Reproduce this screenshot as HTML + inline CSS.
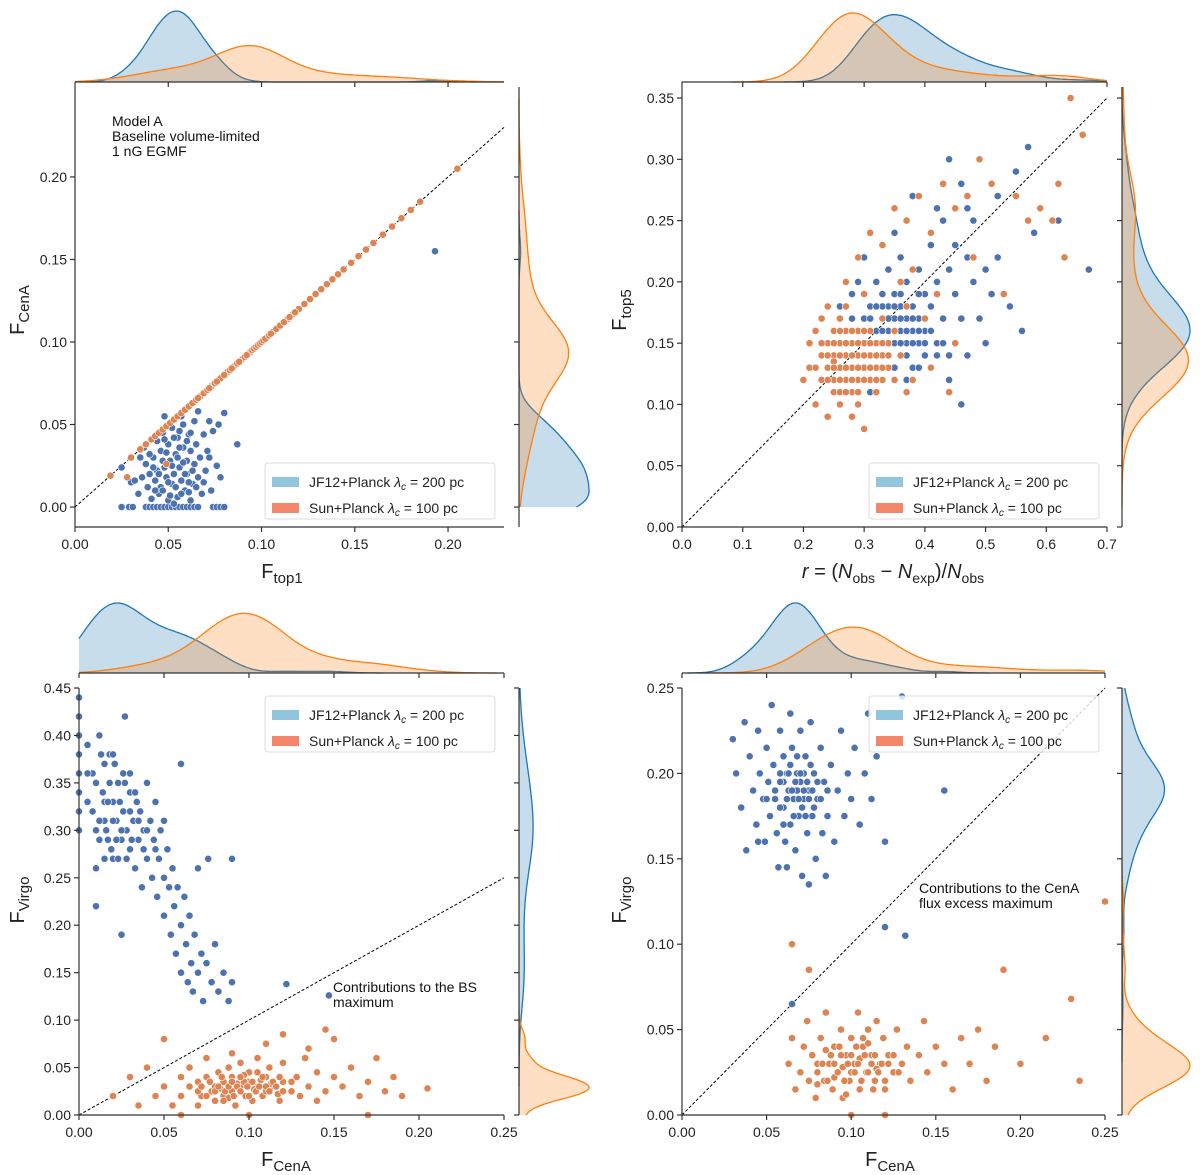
<!DOCTYPE html>
<html><head><meta charset="utf-8"><style>
html,body{margin:0;padding:0;background:#fff;}
svg{display:block;font-family:"Liberation Sans","DejaVu Sans",sans-serif;}
</style></head><body>
<svg id="fig" width="1200" height="1175" viewBox="0 0 1200 1175" xmlns="http://www.w3.org/2000/svg"></svg>
<script>
// ---------- DATA ----------
const p1BlueX=[0.025,0.029,0.031,0.038,0.040,0.042,0.044,0.046,0.048,0.050,0.052,0.054,0.056,0.058,0.060,0.062,0.064,0.066,0.074,0.076,0.078,0.080,
0.025,0.030,0.032,0.034,0.036,0.037,0.038,0.039,0.040,0.041,0.042,0.043,0.044,0.044,0.045,0.046,0.046,0.047,0.048,0.049,0.050,0.050,0.051,0.052,0.052,0.053,0.054,0.055,0.055,0.056,0.057,0.058,0.058,0.059,0.060,0.060,0.061,0.062,0.062,0.063,0.064,0.064,0.065,0.066,0.066,0.067,0.068,0.069,0.070,0.071,0.072,0.073,0.074,0.076,0.077,0.078,0.080,0.087,0.193,0.048,0.057,0.043,0.053,0.069,0.061,0.047,0.056,0.040,0.035,0.072];
const p1BlueY=[0,0,0,0,0,0,0,0,0,0,0,0,0,0,0,0,0,0,0,0,0,0,
0.024,0.015,0.016,0.008,0.018,0.036,0.026,0.012,0.020,0.005,0.030,0.016,0.040,0.022,0.008,0.034,0.012,0.045,0.024,0.018,0.004,0.038,0.028,0.048,0.014,0.020,0.032,0.006,0.042,0.024,0.016,0.036,0.050,0.010,0.028,0.020,0.044,0.004,0.034,0.014,0.026,0.052,0.038,0.018,0.058,0.030,0.008,0.044,0.022,0.034,0.052,0.010,0.046,0.025,0.050,0.018,0.057,0.038,0.155,0.055,0.055,0.010,0.002,0.015,0.009,0.028,0.046,0.032,0.030,0.030];
const p1BlueCoreX=[0.045,0.047,0.050,0.052,0.054,0.055,0.057,0.059,0.061,0.063,0.049,0.051,0.056,0.060,0.053,0.042,0.058,0.065,0.048,0.062];
const p1BlueCoreY=[0.020,0.010,0.015,0.025,0.012,0.030,0.008,0.020,0.015,0.022,0.033,0.007,0.036,0.040,0.042,0.024,0.027,0.012,0.041,0.045];
const p1OrangeX=[0.019,0.030,0.035,0.038,0.041,0.043,0.045,0.047,0.049,0.051,0.053,0.055,0.057,0.059,0.061,0.063,0.065,0.067,0.069,0.071,0.073,0.075,0.077,0.079,0.081,0.083,0.085,0.087,0.089,0.091,0.093,0.095,0.097,0.099,0.101,0.103,0.105,0.107,0.109,0.111,0.114,0.117,0.120,0.123,0.126,0.129,0.132,0.135,0.138,0.141,0.144,0.148,0.152,0.156,0.160,0.165,0.170,0.175,0.180,0.185,0.205,0.088,0.092,0.094,0.096,0.098,0.086,0.082,0.078,0.102,0.106,0.090,0.100,0.028,0.049];
const p1OrangeY=[0.019,0.030,0.035,0.038,0.041,0.043,0.045,0.047,0.049,0.051,0.053,0.055,0.057,0.059,0.061,0.063,0.065,0.067,0.069,0.071,0.073,0.075,0.077,0.079,0.081,0.083,0.085,0.087,0.089,0.091,0.093,0.095,0.097,0.099,0.101,0.103,0.105,0.107,0.109,0.111,0.114,0.117,0.120,0.123,0.126,0.129,0.132,0.135,0.138,0.141,0.144,0.148,0.152,0.156,0.160,0.165,0.170,0.175,0.180,0.185,0.205,0.088,0.092,0.094,0.096,0.098,0.086,0.082,0.078,0.102,0.106,0.090,0.100,0.018,0.026];
const p1OrangeCoreX=[0.080,0.083,0.085,0.087,0.089,0.090,0.091,0.093,0.094,0.095,0.096,0.097,0.098,0.099,0.100,0.101,0.102,0.104,0.105,0.108,0.110,0.112,0.115,0.118,0.084,0.092,0.088,0.076,0.072,0.066];
const p1OrangeCoreY=[0.080,0.083,0.085,0.087,0.089,0.090,0.091,0.093,0.094,0.095,0.096,0.097,0.098,0.099,0.100,0.101,0.102,0.104,0.105,0.108,0.110,0.112,0.115,0.118,0.084,0.092,0.088,0.076,0.072,0.066];

const p2BlueX=[0.26,0.27,0.28,0.28,0.29,0.29,0.30,0.30,0.30,0.31,0.31,0.31,0.32,0.32,0.32,0.33,0.33,0.33,0.33,0.34,0.34,0.34,0.34,0.35,0.35,0.35,0.35,0.36,0.36,0.36,0.36,0.37,0.37,0.37,0.38,0.38,0.38,0.39,0.39,0.39,0.40,0.40,0.40,0.41,0.41,0.42,0.42,0.43,0.43,0.44,0.44,0.44,0.45,0.45,0.46,0.46,0.47,0.47,0.48,0.48,0.49,0.50,0.50,0.51,0.52,0.52,0.53,0.54,0.55,0.56,0.57,0.58,0.62,0.67,0.46,0.42,0.35,0.31,0.29,0.28,0.37,0.32,0.41,0.39,0.33,0.47,0.44,0.38];
const p2BlueY=[0.18,0.16,0.14,0.19,0.20,0.12,0.17,0.15,0.22,0.11,0.18,0.14,0.16,0.20,0.13,0.17,0.15,0.19,0.12,0.18,0.16,0.14,0.21,0.17,0.15,0.19,0.13,0.16,0.18,0.14,0.22,0.17,0.15,0.20,0.16,0.18,0.13,0.17,0.15,0.21,0.16,0.19,0.14,0.18,0.23,0.15,0.20,0.17,0.25,0.14,0.21,0.12,0.19,0.23,0.17,0.10,0.14,0.22,0.20,0.25,0.17,0.21,0.15,0.19,0.22,0.27,0.19,0.18,0.29,0.16,0.31,0.24,0.25,0.21,0.28,0.26,0.24,0.24,0.15,0.17,0.12,0.11,0.13,0.19,0.23,0.26,0.30,0.27];
const p2BlueCoreX=[0.30,0.31,0.32,0.33,0.33,0.34,0.34,0.35,0.35,0.36,0.36,0.37,0.37,0.38,0.38,0.39,0.40,0.40,0.41,0.42,0.32,0.31,0.36,0.39,0.43,0.29,0.34,0.30];
const p2BlueCoreY=[0.16,0.17,0.15,0.16,0.18,0.15,0.17,0.16,0.18,0.15,0.17,0.16,0.14,0.17,0.15,0.16,0.15,0.17,0.16,0.14,0.18,0.15,0.19,0.13,0.15,0.14,0.13,0.13];
const p2OrangeX=[0.20,0.21,0.21,0.22,0.22,0.23,0.23,0.23,0.24,0.24,0.24,0.24,0.25,0.25,0.25,0.25,0.26,0.26,0.26,0.26,0.27,0.27,0.27,0.27,0.28,0.28,0.28,0.28,0.29,0.29,0.29,0.29,0.30,0.30,0.30,0.30,0.31,0.31,0.31,0.32,0.32,0.32,0.33,0.33,0.33,0.34,0.34,0.35,0.35,0.36,0.36,0.37,0.37,0.38,0.38,0.40,0.41,0.42,0.44,0.45,0.48,0.53,0.27,0.29,0.31,0.33,0.35,0.37,0.39,0.41,0.43,0.45,0.47,0.49,0.51,0.55,0.57,0.59,0.61,0.63,0.64,0.66,0.62,0.26,0.28,0.30,0.27,0.25];
const p2OrangeY=[0.12,0.15,0.13,0.10,0.16,0.14,0.12,0.17,0.13,0.15,0.09,0.18,0.14,0.12,0.16,0.11,0.13,0.15,0.17,0.10,0.14,0.12,0.16,0.18,0.13,0.15,0.11,0.09,0.14,0.16,0.12,0.10,0.13,0.15,0.08,0.19,0.14,0.12,0.16,0.13,0.15,0.11,0.14,0.17,0.12,0.15,0.13,0.16,0.12,0.14,0.20,0.11,0.18,0.12,0.21,0.17,0.13,0.19,0.11,0.15,0.22,0.19,0.20,0.22,0.24,0.23,0.26,0.25,0.27,0.24,0.28,0.26,0.27,0.30,0.28,0.27,0.25,0.26,0.25,0.22,0.35,0.32,0.28,0.16,0.14,0.14,0.13,0.135];
const p2OrangeCoreX=[0.24,0.25,0.25,0.26,0.26,0.27,0.27,0.28,0.28,0.28,0.29,0.29,0.30,0.30,0.31,0.31,0.32,0.32,0.33,0.33,0.26,0.29,0.23,0.24,0.27,0.30,0.34,0.22];
const p2OrangeCoreY=[0.14,0.15,0.13,0.14,0.12,0.15,0.13,0.14,0.12,0.16,0.13,0.15,0.14,0.12,0.13,0.15,0.14,0.12,0.13,0.15,0.11,0.11,0.15,0.12,0.11,0.16,0.14,0.13];

const p3BlueX=[0,0,0,0,0,0,0,0,0.005,0.005,0.008,0.01,0.01,0.012,0.014,0.015,0.017,0.018,0.02,0.02,0.022,0.023,0.025,0.026,0.027,0.028,0.03,0.03,0.032,0.033,0.034,0.035,0.036,0.037,0.038,0.04,0.04,0.042,0.043,0.044,0.045,0.046,0.047,0.048,0.05,0.05,0.052,0.053,0.054,0.055,0.056,0.057,0.058,0.06,0.06,0.062,0.063,0.064,0.065,0.066,0.067,0.068,0.07,0.072,0.073,0.075,0.076,0.078,0.08,0.082,0.085,0.088,0.09,0.09,0.06,0.025,0.01,0.122,0.147,0.03,0.015,0.045,0.05,0.07];
const p3BlueY=[0.44,0.42,0.40,0.38,0.36,0.34,0.32,0.30,0.39,0.33,0.36,0.30,0.26,0.40,0.34,0.31,0.29,0.38,0.33,0.27,0.31,0.35,0.29,0.32,0.42,0.30,0.34,0.28,0.31,0.26,0.33,0.29,0.32,0.24,0.30,0.35,0.27,0.31,0.25,0.29,0.33,0.23,0.27,0.30,0.25,0.21,0.28,0.24,0.19,0.26,0.22,0.17,0.24,0.20,0.15,0.23,0.18,0.14,0.21,0.16,0.13,0.19,0.15,0.17,0.12,0.16,0.27,0.14,0.18,0.13,0.15,0.12,0.27,0.14,0.37,0.19,0.22,0.138,0.126,0.36,0.37,0.28,0.31,0.26];
const p3BlueCoreX=[0.005,0.008,0.01,0.012,0.013,0.015,0.016,0.018,0.019,0.02,0.021,0.022,0.024,0.025,0.027,0.028,0.03,0.031,0.033,0.035,0.012,0.017,0.023,0.026,0.038,0.04,0.015,0.02];
const p3BlueCoreY=[0.36,0.32,0.35,0.29,0.38,0.33,0.30,0.35,0.28,0.31,0.37,0.29,0.33,0.30,0.35,0.27,0.32,0.29,0.34,0.31,0.31,0.33,0.27,0.36,0.28,0.30,0.27,0.38];
const p3OrangeX=[0.02,0.03,0.035,0.04,0.045,0.05,0.05,0.055,0.06,0.06,0.065,0.065,0.07,0.07,0.072,0.075,0.075,0.078,0.08,0.08,0.082,0.085,0.085,0.088,0.09,0.09,0.092,0.095,0.095,0.098,0.1,0.1,0.102,0.105,0.105,0.108,0.11,0.11,0.112,0.115,0.118,0.12,0.12,0.125,0.128,0.13,0.133,0.135,0.14,0.14,0.145,0.15,0.15,0.155,0.16,0.165,0.17,0.175,0.18,0.185,0.19,0.205,0.17,0.145,0.11,0.09,0.1,0.06,0.12,0.135,0.083,0.093,0.103,0.113,0.088,0.097,0.107,0.117];
const p3OrangeY=[0.02,0.04,0.01,0.05,0.02,0.08,0.03,0.01,0.04,0.02,0.03,0.05,0.01,0.035,0.02,0.04,0.06,0.025,0.03,0.015,0.045,0.02,0.035,0.05,0.025,0.04,0.01,0.03,0.055,0.02,0.035,0.045,0.015,0.03,0.06,0.02,0.04,0.025,0.05,0.03,0.015,0.035,0.055,0.025,0.04,0.02,0.06,0.03,0.045,0.015,0.025,0.04,0.08,0.03,0.05,0.02,0.035,0.06,0.025,0.04,0.02,0.028,0.0,0.09,0.075,0.065,0.0,0.0,0.085,0.07,0.028,0.033,0.027,0.033,0.018,0.042,0.037,0.022];
const p3OrangeCoreX=[0.07,0.072,0.075,0.077,0.08,0.082,0.084,0.086,0.088,0.09,0.091,0.093,0.095,0.097,0.099,0.1,0.102,0.104,0.106,0.108,0.11,0.112,0.114,0.116,0.118,0.12,0.085,0.095,0.105,0.125];
const p3OrangeCoreY=[0.025,0.03,0.02,0.035,0.025,0.03,0.04,0.025,0.03,0.035,0.02,0.03,0.025,0.035,0.03,0.02,0.035,0.025,0.03,0.04,0.03,0.025,0.035,0.03,0.04,0.025,0.015,0.04,0.045,0.035];

const p4BlueX=[0.03,0.032,0.035,0.037,0.038,0.04,0.042,0.044,0.045,0.046,0.048,0.049,0.05,0.051,0.052,0.053,0.054,0.055,0.056,0.057,0.058,0.059,0.06,0.06,0.061,0.062,0.063,0.064,0.064,0.065,0.066,0.067,0.068,0.069,0.07,0.07,0.071,0.072,0.073,0.074,0.075,0.076,0.077,0.078,0.079,0.08,0.082,0.083,0.084,0.086,0.088,0.09,0.092,0.094,0.096,0.098,0.1,0.102,0.105,0.108,0.11,0.112,0.115,0.12,0.13,0.155,0.12,0.132,0.065,0.075,0.062,0.085,0.045,0.058,0.072,0.068];
const p4BlueY=[0.22,0.20,0.18,0.23,0.155,0.21,0.19,0.17,0.225,0.20,0.185,0.16,0.215,0.195,0.175,0.24,0.205,0.185,0.165,0.145,0.225,0.195,0.18,0.21,0.16,0.20,0.19,0.17,0.235,0.215,0.185,0.155,0.20,0.175,0.195,0.225,0.14,0.185,0.21,0.165,0.19,0.23,0.175,0.20,0.15,0.185,0.215,0.165,0.195,0.175,0.205,0.16,0.19,0.225,0.175,0.20,0.185,0.215,0.17,0.20,0.235,0.185,0.21,0.16,0.245,0.19,0.11,0.105,0.065,0.135,0.145,0.14,0.16,0.2,0.2,0.19];
const p4BlueCoreX=[0.055,0.058,0.06,0.062,0.063,0.065,0.066,0.067,0.069,0.07,0.071,0.072,0.074,0.075,0.077,0.078,0.08,0.082,0.06,0.064,0.068,0.073,0.076,0.058,0.086,0.05];
const p4BlueCoreY=[0.19,0.18,0.195,0.185,0.2,0.19,0.175,0.195,0.185,0.2,0.18,0.19,0.195,0.185,0.19,0.18,0.195,0.185,0.17,0.205,0.21,0.175,0.205,0.195,0.19,0.185];
const p4OrangeX=[0.063,0.065,0.067,0.07,0.072,0.074,0.075,0.077,0.079,0.08,0.082,0.084,0.085,0.087,0.089,0.09,0.092,0.094,0.095,0.097,0.099,0.1,0.102,0.104,0.105,0.107,0.109,0.11,0.112,0.114,0.115,0.117,0.119,0.12,0.122,0.125,0.127,0.13,0.133,0.135,0.14,0.143,0.145,0.15,0.155,0.16,0.165,0.17,0.175,0.18,0.185,0.19,0.2,0.215,0.23,0.235,0.25,0.065,0.075,0.1,0.12,0.095,0.105,0.085,0.115,0.09,0.11,0.1,0.08];
const p4OrangeY=[0.03,0.045,0.015,0.025,0.04,0.055,0.02,0.035,0.01,0.03,0.045,0.02,0.06,0.03,0.015,0.04,0.025,0.05,0.01,0.035,0.02,0.045,0.03,0.06,0.015,0.04,0.025,0.05,0.035,0.02,0.055,0.03,0.045,0.015,0.035,0.025,0.05,0.03,0.04,0.02,0.035,0.055,0.025,0.04,0.03,0.015,0.045,0.03,0.05,0.02,0.04,0.085,0.03,0.045,0.068,0.02,0.125,0.1,0.085,0.0,0.0,0.028,0.033,0.038,0.027,0.022,0.042,0.025,0.018];
const p4OrangeCoreX=[0.08,0.083,0.086,0.088,0.09,0.092,0.094,0.096,0.098,0.1,0.102,0.104,0.106,0.108,0.11,0.112,0.114,0.116,0.118,0.12,0.122,0.125,0.128,0.093,0.103,0.113,0.097,0.107];
const p4OrangeCoreY=[0.025,0.03,0.02,0.035,0.03,0.025,0.035,0.02,0.03,0.035,0.025,0.03,0.02,0.035,0.025,0.03,0.035,0.025,0.03,0.02,0.03,0.035,0.025,0.04,0.04,0.015,0.012,0.045];

const p1XTicks=[0,0.05,0.10,0.15,0.20], p1XLabels=["0.00","0.05","0.10","0.15","0.20"];
const p1YTicks=[0,0.05,0.10,0.15,0.20], p1YLabels=["0.00","0.05","0.10","0.15","0.20"];
const p2XTicks=[0,0.1,0.2,0.3,0.4,0.5,0.6,0.7], p2XLabels=["0.0","0.1","0.2","0.3","0.4","0.5","0.6","0.7"];
const p2YTicks=[0,0.05,0.10,0.15,0.20,0.25,0.30,0.35], p2YLabels=["0.00","0.05","0.10","0.15","0.20","0.25","0.30","0.35"];
const p3XTicks=[0,0.05,0.10,0.15,0.20,0.25], p3XLabels=["0.00","0.05","0.10","0.15","0.20","0.25"];
const p3YTicks=[0,0.05,0.10,0.15,0.20,0.25,0.30,0.35,0.40,0.45], p3YLabels=["0.00","0.05","0.10","0.15","0.20","0.25","0.30","0.35","0.40","0.45"];
const p4XTicks=[0,0.05,0.10,0.15,0.20,0.25], p4XLabels=["0.00","0.05","0.10","0.15","0.20","0.25"];
const p4YTicks=[0,0.05,0.10,0.15,0.20,0.25], p4YLabels=["0.00","0.05","0.10","0.15","0.20","0.25"];
const legendLabels=["JF12+Planck","Sun+Planck"], legendValues=["200 pc","100 pc"];

// ---------- DRAWING ----------
const NS="http://www.w3.org/2000/svg";
const svg=document.getElementById('fig');
function mk(tag,attrs,parent){const e=document.createElementNS(NS,tag);for(const k in attrs)e.setAttribute(k,attrs[k]);(parent||svg).appendChild(e);return e;}
const BLUE="#4C72B0",ORANGE="#DD8452",KB="#1f77b4",KO="#ff7f0e";

function kde(data,lo,hi){
  const n=data.length,m=data.reduce((a,b)=>a+b,0)/n;
  const sd=Math.sqrt(data.reduce((a,b)=>a+(b-m)*(b-m),0)/(n-1));
  const bw=sd*Math.pow(n,-0.2);
  const mn=Math.min(...data),mx=Math.max(...data);
  const a=Math.max(lo,0,mn-3*bw),b=Math.min(hi,mx+3*bw);
  const pts=[];
  for(let i=0;i<=200;i++){const x=a+(b-a)*i/200;let s=0;for(const d of data){const z=(x-d)/bw;s+=Math.exp(-0.5*z*z);}pts.push([x,s/(n*bw*Math.sqrt(2*Math.PI))]);}
  return pts;
}

function panel(P){
  const g=mk('g',{});
  
  
  const sx=v=>P.L+(v-P.x0)/(P.x1-P.x0)*(P.R-P.L);
  const sy=v=>P.B-(v-P.y0)/(P.y1-P.y0)*(P.B-P.T);
  const kx=[kde(P.bx,P.x0,P.x1),kde(P.ox,P.x0,P.x1)];
  const ky=[kde(P.by,P.y0,P.y1),kde(P.oy,P.y0,P.y1)];
  const mxX=Math.max(...kx.flat().map(p=>p[1])),mxY=Math.max(...ky.flat().map(p=>p[1]));
  const tg=mk('g',{},g);
  kx.forEach((k,i)=>{
    const h=P.mTb-P.mTt;
    let d='M'+sx(k[0][0])+','+P.mTb;k.forEach(p=>d+=' L'+sx(p[0]).toFixed(1)+','+(P.mTb-p[1]/mxX*h).toFixed(1));d+=' L'+sx(k[k.length-1][0])+','+P.mTb+'Z';
    const f=mk('path',{d:d,fill:i?KO:KB,'fill-opacity':0.25,stroke:'none'},tg);
    
    let l='';k.forEach((p,j)=>l+=(j?' L':'M')+sx(p[0]).toFixed(1)+','+(P.mTb-p[1]/mxX*h).toFixed(1));
    const ln=mk('path',{d:l,fill:'none',stroke:i?KO:KB,'stroke-width':1.3},tg);
    
  });
  mk('line',{x1:P.L,x2:P.R,y1:P.mTb,y2:P.mTb,stroke:'#333','stroke-width':1.2},tg);
  P.xt.forEach(v=>mk('line',{x1:sx(v),x2:sx(v),y1:P.mTb,y2:P.mTb+5,stroke:'#333','stroke-width':1.2},tg));
  const rg=mk('g',{},g);
  ky.forEach((k,i)=>{
    const w=P.mRr-P.mRl;
    let d='M'+P.mRl+','+sy(k[0][0]);k.forEach(p=>d+=' L'+(P.mRl+p[1]/mxY*w).toFixed(1)+','+sy(p[0]).toFixed(1));d+=' L'+P.mRl+','+sy(k[k.length-1][0])+'Z';
    const f=mk('path',{d:d,fill:i?KO:KB,'fill-opacity':0.25,stroke:'none'},rg);
    
    let l='';k.forEach((p,j)=>l+=(j?' L':'M')+(P.mRl+p[1]/mxY*w).toFixed(1)+','+sy(p[0]).toFixed(1));
    const ln=mk('path',{d:l,fill:'none',stroke:i?KO:KB,'stroke-width':1.3},rg);
    
  });
  mk('line',{x1:P.mRl,x2:P.mRl,y1:P.T,y2:P.B,stroke:'#333','stroke-width':1.2},rg);
  P.yt.forEach(v=>mk('line',{x1:P.mRl-5,x2:P.mRl,y1:sy(v),y2:sy(v),stroke:'#333','stroke-width':1.2},rg));
  const dl=mk('line',{x1:sx(0),y1:sy(0),x2:sx(P.lx),y2:sy(P.lx*P.slope),stroke:'#000','stroke-width':1,'stroke-dasharray':'3,2'},g);
  
  [[P.bx,P.by,BLUE,'jf12'],[P.ox,P.oy,ORANGE,'sun']].forEach(s=>{
    const sg=mk('g',{},g);
    s[0].forEach((x,i)=>{const c=mk('circle',{cx:sx(x).toFixed(1),cy:sy(s[1][i]).toFixed(1),r:3.6,fill:s[2],stroke:'#fff','stroke-width':0.6},sg);
      });
  });
  const ax=mk('g',{},g);
  mk('line',{x1:P.L,x2:P.R,y1:P.B,y2:P.B,stroke:'#333','stroke-width':1.2},ax);
  mk('line',{x1:P.L,x2:P.L,y1:P.T,y2:P.B,stroke:'#333','stroke-width':1.2},ax);
  P.xt.forEach((v,i)=>{mk('line',{x1:sx(v),x2:sx(v),y1:P.B,y2:P.B+5,stroke:'#333','stroke-width':1.2},ax);
    const t=mk('text',{x:sx(v),y:P.B+22,'text-anchor':'middle','font-size':14,fill:'#222'},ax);t.textContent=P.xl[i];
    });
  P.yt.forEach((v,i)=>{mk('line',{x1:P.L-5,x2:P.L,y1:sy(v),y2:sy(v),stroke:'#333','stroke-width':1.2},ax);
    const t=mk('text',{x:P.L-8,y:sy(v)+5,'text-anchor':'end','font-size':14,fill:'#222'},ax);t.textContent=P.yl[i];
    });
  const lg=mk('g',{},g);
  mk('rect',{x:P.lgx,y:P.lgy,width:230,height:56,rx:3,fill:'#fff','fill-opacity':0.8,stroke:'#ddd'},lg);
  [['#92c5de',0],['#f4876a',1]].forEach(e=>{
    const y=P.lgy+14+e[1]*26;
    const r=mk('rect',{x:P.lgx+7,y:y,width:27,height:10,fill:e[0]},lg);
    
    const t=mk('text',{x:P.lgx+44,y:y+10,'font-size':14,fill:'#222'},lg);
    
    t.innerHTML=legendLabels[e[1]]+' <tspan font-style="italic">λ</tspan><tspan font-style="italic" font-size="10" dy="3">c</tspan><tspan dy="-3"> = '+legendValues[e[1]]+'</tspan>';
  });
  return {g,sx,sy};
}
function label(txt,sub,x,y,rot,name){
  const t=mk('text',{x:x,y:y,'text-anchor':'middle','font-size':20,fill:'#222',transform:rot?`rotate(-90 ${x} ${y})`:''});
  
  t.innerHTML=txt+'<tspan font-size="15" dy="5">'+sub+'</tspan>';
}
function note(lines,x,y,name){
  const t=mk('text',{x:x,y:y,'font-size':14,fill:'#111'});
  
  lines.forEach((l,i)=>{const s=mk('tspan',{x:x,dy:i?15:0},t);s.textContent=l;});
}

panel({name:'panel-top1-vs-cena',L:75,R:504,T:87,B:527,x0:0,x1:0.23,y0:-0.0121,y1:0.2545,
  bx:p1BlueX.concat(p1BlueCoreX),by:p1BlueY.concat(p1BlueCoreY),ox:p1OrangeX.concat(p1OrangeCoreX),oy:p1OrangeY.concat(p1OrangeCoreY),
  xt:p1XTicks,xl:p1XLabels,yt:p1YTicks,yl:p1YLabels,mTt:11,mTb:82,mRl:519,mRr:589,lx:0.23,slope:1,lgx:265,lgy:463});
panel({name:'panel-r-vs-top5',L:682,R:1107,T:87,B:527,x0:0,x1:0.7,y0:0,y1:0.359,
  bx:p2BlueX.concat(p2BlueCoreX),by:p2BlueY.concat(p2BlueCoreY),ox:p2OrangeX.concat(p2OrangeCoreX),oy:p2OrangeY.concat(p2OrangeCoreY),
  xt:p2XTicks,xl:p2XLabels,yt:p2YTicks,yl:p2YLabels,mTt:13,mTb:82,mRl:1122,mRr:1190,lx:0.7,slope:0.5,lgx:869,lgy:463});
panel({name:'panel-cena-vs-virgo-bs',L:79,R:504,T:688,B:1115,x0:0,x1:0.25,y0:0,y1:0.45,
  bx:p3BlueX.concat(p3BlueCoreX),by:p3BlueY.concat(p3BlueCoreY),ox:p3OrangeX.concat(p3OrangeCoreX),oy:p3OrangeY.concat(p3OrangeCoreY),
  xt:p3XTicks,xl:p3XLabels,yt:p3YTicks,yl:p3YLabels,mTt:603,mTb:673,mRl:519,mRr:589,lx:0.25,slope:1,lgx:265,lgy:696});
panel({name:'panel-cena-vs-virgo-excess',L:682,R:1105,T:688,B:1115,x0:0,x1:0.25,y0:0,y1:0.25,
  bx:p4BlueX.concat(p4BlueCoreX),by:p4BlueY.concat(p4BlueCoreY),ox:p4OrangeX.concat(p4OrangeCoreX),oy:p4OrangeY.concat(p4OrangeCoreY),
  xt:p4XTicks,xl:p4XLabels,yt:p4YTicks,yl:p4YLabels,mTt:603,mTb:673,mRl:1122,mRr:1190,lx:0.25,slope:1,lgx:869,lgy:696});

label('F','CenA',24,310,true,'y-axis-title-cena');
label('F','top1',282,578,false,'x-axis-title-top1');
label('F','top5',626,310,true,'y-axis-title-top5');
label('F','Virgo',24,900,true,'y-axis-title-virgo');
label('F','CenA',286,1166,false,'x-axis-title-cena');
label('F','Virgo',626,900,true,'y-axis-title-virgo-2');
label('F','CenA',890,1166,false,'x-axis-title-cena-2');
const rl=mk('text',{x:893,y:578,'text-anchor':'middle','font-size':20,fill:'#222'});

rl.innerHTML='<tspan font-style="italic">r</tspan> = (<tspan font-style="italic">N</tspan><tspan font-size="14" dy="5">obs</tspan><tspan dy="-5"> − </tspan><tspan font-style="italic">N</tspan><tspan font-size="14" dy="5">exp</tspan><tspan dy="-5">)/</tspan><tspan font-style="italic">N</tspan><tspan font-size="14" dy="5">obs</tspan>';
note(['Model A','Baseline volume-limited','1 nG EGMF'],112,126,'model-annotation');
note(['Contributions to the BS','maximum'],333,992,'bs-annotation');
note(['Contributions to the CenA','flux excess maximum'],919,893,'cena-annotation');
</script>
</body></html>
